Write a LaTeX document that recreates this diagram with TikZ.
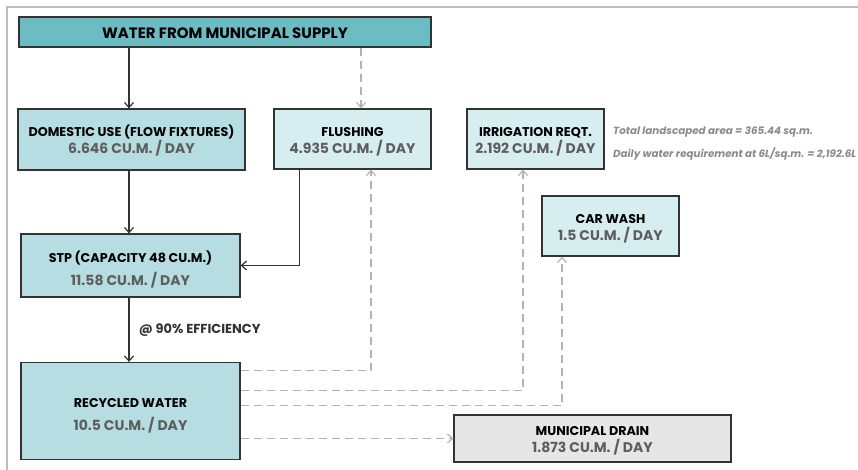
\documentclass[tikz,border=0pt]{standalone}
\usepackage{fontspec}
\setmainfont{Poppins}
\usepackage{xcolor}
\usetikzlibrary{arrows.meta}
\definecolor{supplyteal}{HTML}{6CBCC4}
\definecolor{usecyan}{HTML}{B6DDE1}
\definecolor{reusecyan}{HTML}{D7EEF0}
\definecolor{draingray}{HTML}{E6E6E6}
\definecolor{valuegray}{HTML}{5E5E5E}
\definecolor{dashgray}{HTML}{B3B3B3}
\definecolor{notegray}{HTML}{8A8A8A}
\definecolor{framegray}{HTML}{BDBDBD}
\tikzset{
	flowbox/.style={draw=black!80, line width=1.3pt, align=center, inner sep=0pt,
		font=\bfseries\fontsize{12.7}{17}\selectfont},
	mainflow/.style={-{Straight Barb[length=5pt,width=9pt]}, line width=1.2pt, black!80},
	reuseflow/.style={-{Straight Barb[length=5pt,width=9pt]}, line width=1.2pt, dashgray,
		dash pattern=on 8pt off 5pt},
	noteline/.style={anchor=west, inner sep=0pt, text=notegray,
		font=\bfseries\itshape\fontsize{10.3}{12}\selectfont},
}
\newcommand{\perday}[1]{{\color{valuegray}\fontsize{14}{17}\selectfont #1 CU.M. / DAY}}
\newcommand{\toppad}{\rule{0pt}{19pt}}

\begin{document}
\begin{tikzpicture}[x=1pt,y=-1pt]
		\useasboundingbox (0,0) rectangle (858,470);
		\draw[framegray, line width=1.5pt] (7,470) -- (7,7) -- (858,7);
		\node[flowbox, fill=supplyteal, minimum width=412, minimum height=30,
			font=\bfseries\fontsize{15}{17}\selectfont] (supply) at (225,32) {\rule{0pt}{14pt}WATER FROM MUNICIPAL SUPPLY};
		\node[flowbox, fill=usecyan, minimum width=227, minimum height=61] (domestic) at (131.5,139.5)
			{\rule{0pt}{14pt}DOMESTIC USE (FLOW FIXTURES)\\ \perday{6.646}};
		\node[flowbox, fill=reusecyan, minimum width=157, minimum height=60] (flushing) at (352.5,139)
			{\rule{0pt}{14pt}FLUSHING\\ \perday{4.935}};
		\node[flowbox, fill=reusecyan, minimum width=137, minimum height=60] (irrigation) at (535.5,139)
			{\rule{0pt}{15pt}IRRIGATION REQT.\\ \perday{2.192}};
		\node[flowbox, fill=reusecyan, minimum width=137, minimum height=60] (carwash) at (610.5,226)
			{\rule{0pt}{14pt}CAR WASH\\ \perday{1.5}};
		\node[flowbox, fill=usecyan, minimum width=219, minimum height=63] (stp) at (130.5,265.5)
			{\toppad STP (CAPACITY 48 CU.M.)\\[6pt] \perday{11.58}};
		\node[flowbox, fill=usecyan, minimum width=219, minimum height=97] (recycled) at (130.5,411)
			{\toppad RECYCLED WATER\\[6pt] \perday{10.5}};
		\node[flowbox, fill=draingray, minimum width=277, minimum height=47] (drain) at (592.5,438.5)
			{\rule{0pt}{13pt}MUNICIPAL DRAIN\\ \perday{1.873}};
		\node[noteline] (area) at (613,132) {Total landscaped area = 365.44 sq.m.};
		\node[noteline] (demand) at (613,154) {Daily water requirement at 6L/sq.m. = 2,192.6L};
		\draw[mainflow] ([xshift=-2.5pt]domestic.north |- supply.south) -- ([xshift=-2.5pt]domestic.north);
		\draw[mainflow] ([xshift=-2.5pt]domestic.south) -- ([xshift=-2.5pt]domestic.south |- stp.north);
		\draw[mainflow] ([xshift=-1.5pt]stp.south) -- ([xshift=-1.5pt]recycled.north)
			node[midway, anchor=west, xshift=6pt, font=\bfseries\fontsize{13}{15}\selectfont] (efficiency) {@ 90\% EFFICIENCY};
		\draw[mainflow] ([xshift=26pt]flushing.south west) |- (stp.east);
		\draw[reuseflow] ([xshift=8.5pt]flushing.north |- supply.south) -- ([xshift=8.5pt]flushing.north);
		\draw[reuseflow] ([yshift=-9pt]recycled.north east) -| ([xshift=18.5pt]flushing.south);
		\draw[reuseflow] ([yshift=-29pt]recycled.north east) -| ([xshift=-12.5pt]irrigation.south);
		\draw[reuseflow] ([yshift=-44pt]recycled.north east) -| ([xshift=-48.5pt]carwash.south);
		\draw[reuseflow] (recycled.east |- drain.west) -- (drain.west);
	\end{tikzpicture}
\end{document}
